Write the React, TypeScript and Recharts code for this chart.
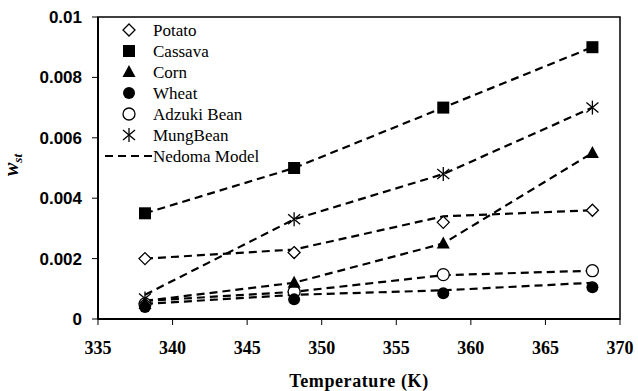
import React from 'react';
import { ComposedChart, Line, XAxis, YAxis, ReferenceArea, Label } from 'recharts';

// Temperatures (K)
const temperatures = [338.15, 348.15, 358.15, 368.15];

// Measured values (markers)
const potato = [0.002, 0.0022, 0.0032, 0.0036];
const cassava = [0.0035, 0.005, 0.007, 0.009];
const corn = [0.0005, 0.0012, 0.0025, 0.0055];
const wheat = [0.0004, 0.00065, 0.00085, 0.00105];
const adzuki = [0.0005, 0.0009, 0.00147, 0.0016];
const mung = [0.00068, 0.0033, 0.0048, 0.007];

// Nedoma model values (dashed lines)
const potatoModel = [0.002, 0.0023, 0.0034, 0.0036];
const cassavaModel = [0.0035, 0.005, 0.007, 0.009];
const cornModel = [0.0006, 0.0012, 0.0025, 0.0055];
const wheatModel = [0.0005, 0.0008, 0.00095, 0.0012];
const adzukiModel = [0.0006, 0.0009, 0.00145, 0.0016];
const mungModel = [0.0008, 0.0033, 0.0048, 0.007];

const xTicks = [335, 340, 345, 350, 355, 360, 365, 370];
const yTicks = [0, 0.002, 0.004, 0.006, 0.008, 0.01];
const yTickLabels = ['0', '0.002', '0.004', '0.006', '0.008', '0.01'];

const legendLabels = ['Potato', 'Cassava', 'Corn', 'Wheat', 'Adzuki Bean', 'MungBean', 'Nedoma Model'];

const data = temperatures.map((t, i) => ({
  t,
  potato: potato[i],
  cassava: cassava[i],
  corn: corn[i],
  wheat: wheat[i],
  adzuki: adzuki[i],
  mung: mung[i],
  potatoModel: potatoModel[i],
  cassavaModel: cassavaModel[i],
  cornModel: cornModel[i],
  wheatModel: wheatModel[i],
  adzukiModel: adzukiModel[i],
  mungModel: mungModel[i],
}));

type Kind = 'diamond' | 'square' | 'triangle' | 'dot' | 'ring' | 'star';

function Marker({ kind, cx, cy }: { kind: Kind; cx: number; cy: number }) {
  switch (kind) {
    case 'diamond':
      return (
        <polygon
          points={`${cx},${cy - 6} ${cx + 6},${cy} ${cx},${cy + 6} ${cx - 6},${cy}`}
          fill="#fff"
          stroke="#000"
          strokeWidth={1.3}
        />
      );
    case 'square':
      return <rect x={cx - 6} y={cy - 6} width={12} height={12} fill="#000" />;
    case 'triangle':
      return <polygon points={`${cx},${cy - 7} ${cx + 6.5},${cy + 5} ${cx - 6.5},${cy + 5}`} fill="#000" />;
    case 'dot':
      return <circle cx={cx} cy={cy} r={6} fill="#000" />;
    case 'ring':
      return <circle cx={cx} cy={cy} r={6} fill="#fff" stroke="#000" strokeWidth={1.3} />;
    case 'star':
      return (
        <g stroke="#000" strokeWidth={1.3}>
          <line x1={cx} y1={cy - 7} x2={cx} y2={cy + 7} />
          <line x1={cx - 6} y1={cy - 5} x2={cx + 6} y2={cy + 5} />
          <line x1={cx - 6} y1={cy + 5} x2={cx + 6} y2={cy - 5} />
        </g>
      );
  }
  return null;
}

const makeDot = (kind: Kind) => (props: any) => {
  const { cx, cy, key, index } = props;
  if (cx == null || cy == null) return <g key={key ?? index} />;
  return (
    <g key={key ?? `${kind}-${index}`}>
      <Marker kind={kind} cx={cx} cy={cy} />
    </g>
  );
};

const legendKinds: (Kind | 'line')[] = ['diamond', 'square', 'triangle', 'dot', 'ring', 'star', 'line'];

const dash = '8 5';

const XTick = (props: any) => {
  const { x, y, payload } = props;
  return (
    <text
      x={x}
      y={y + 27}
      textAnchor="middle"
      fontFamily="Liberation Serif"
      fontWeight="bold"
      fontSize={18}
      fill="#000"
    >
      {payload.value}
    </text>
  );
};

const YTick = (props: any) => {
  const { x, y, payload } = props;
  const i = yTicks.indexOf(payload.value);
  return (
    <text
      x={x - 8}
      y={y + 6}
      textAnchor="end"
      fontFamily="Liberation Sans"
      fontWeight="bold"
      fontSize={17}
      fill="#000"
    >
      {i >= 0 ? yTickLabels[i] : String(payload.value)}
    </text>
  );
};

const YLabel = () => (
  <text
    x={18}
    y={176}
    transform="rotate(-90 18 176)"
    fontFamily="Liberation Serif"
    fontWeight="bold"
    fontStyle="italic"
    fontSize={20}
    fill="#000"
  >
    w<tspan fontSize={13} dy={4}>st</tspan>
  </text>
);

export default function App() {
  const rowH = 21;
  return (
    <div style={{ position: 'fixed', left: 0, top: 0, width: 638, height: 391, background: '#fff' }}>
      <ComposedChart
        width={638}
        height={391}
        data={data}
        margin={{ top: 17, right: 18, bottom: 0, left: 0 }}
      >
        <XAxis
          dataKey="t"
          type="number"
          domain={[335, 370]}
          ticks={xTicks}
          allowDataOverflow
          height={72}
          tickSize={6}
          tickMargin={2}
          axisLine={{ stroke: '#000', strokeWidth: 2 }}
          tickLine={{ stroke: '#000', strokeWidth: 1 }}
          tick={<XTick />}
        >
          <Label
            value="Temperature (K)"
            position="insideBottom"
            offset={4}
            style={{ fill: '#000', fontSize: 18, fontWeight: 'bold', fontFamily: 'Liberation Serif', letterSpacing: 0.6 }}
          />
        </XAxis>
        <YAxis
          type="number"
          domain={[0, 0.01]}
          ticks={yTicks}
          width={98}
          tickSize={6}
          tickMargin={2}
          axisLine={{ stroke: '#000', strokeWidth: 2 }}
          tickLine={{ stroke: '#000', strokeWidth: 1 }}
          tick={<YTick />}
          label={{ content: () => <YLabel /> }}
        />
        <ReferenceArea x1={335} x2={370} y1={0} y2={0.01} fill="none" stroke="#000" strokeWidth={1.5} />

        {['potatoModel', 'cassavaModel', 'adzukiModel', 'cornModel', 'wheatModel', 'mungModel'].map((k) => (
          <Line
            key={k}
            dataKey={k}
            stroke="#000"
            strokeWidth={2.2}
            strokeDasharray={dash}
            dot={false}
            activeDot={false}
            isAnimationActive={false}
            type="linear"
          />
        ))}

        <Line dataKey="potato" stroke="none" dot={makeDot('diamond')} activeDot={false} isAnimationActive={false} />
        <Line dataKey="cassava" stroke="none" dot={makeDot('square')} activeDot={false} isAnimationActive={false} />
        <Line dataKey="adzuki" stroke="none" dot={makeDot('ring')} activeDot={false} isAnimationActive={false} />
        <Line dataKey="corn" stroke="none" dot={makeDot('triangle')} activeDot={false} isAnimationActive={false} />
        <Line dataKey="wheat" stroke="none" dot={makeDot('dot')} activeDot={false} isAnimationActive={false} />
        <Line dataKey="mung" stroke="none" dot={makeDot('star')} activeDot={false} isAnimationActive={false} />
      </ComposedChart>

      <svg
        width={260}
        height={160}
        style={{ position: 'absolute', left: 100, top: 18, pointerEvents: 'none' }}
      >
        {legendLabels.map((lab, i) => {
          const cy = 12 + i * rowH;
          const kind = legendKinds[i];
          return (
            <g key={lab}>
              {kind === 'line' ? (
                <line x1={5} y1={cy} x2={52} y2={cy} stroke="#000" strokeWidth={2} strokeDasharray={dash} />
              ) : (
                <Marker kind={kind as Kind} cx={29} cy={cy} />
              )}
              <text x={53} y={cy + 6} fontFamily="Liberation Serif" fontSize={17} fill="#000">
                {lab}
              </text>
            </g>
          );
        })}
      </svg>
    </div>
  );
}
